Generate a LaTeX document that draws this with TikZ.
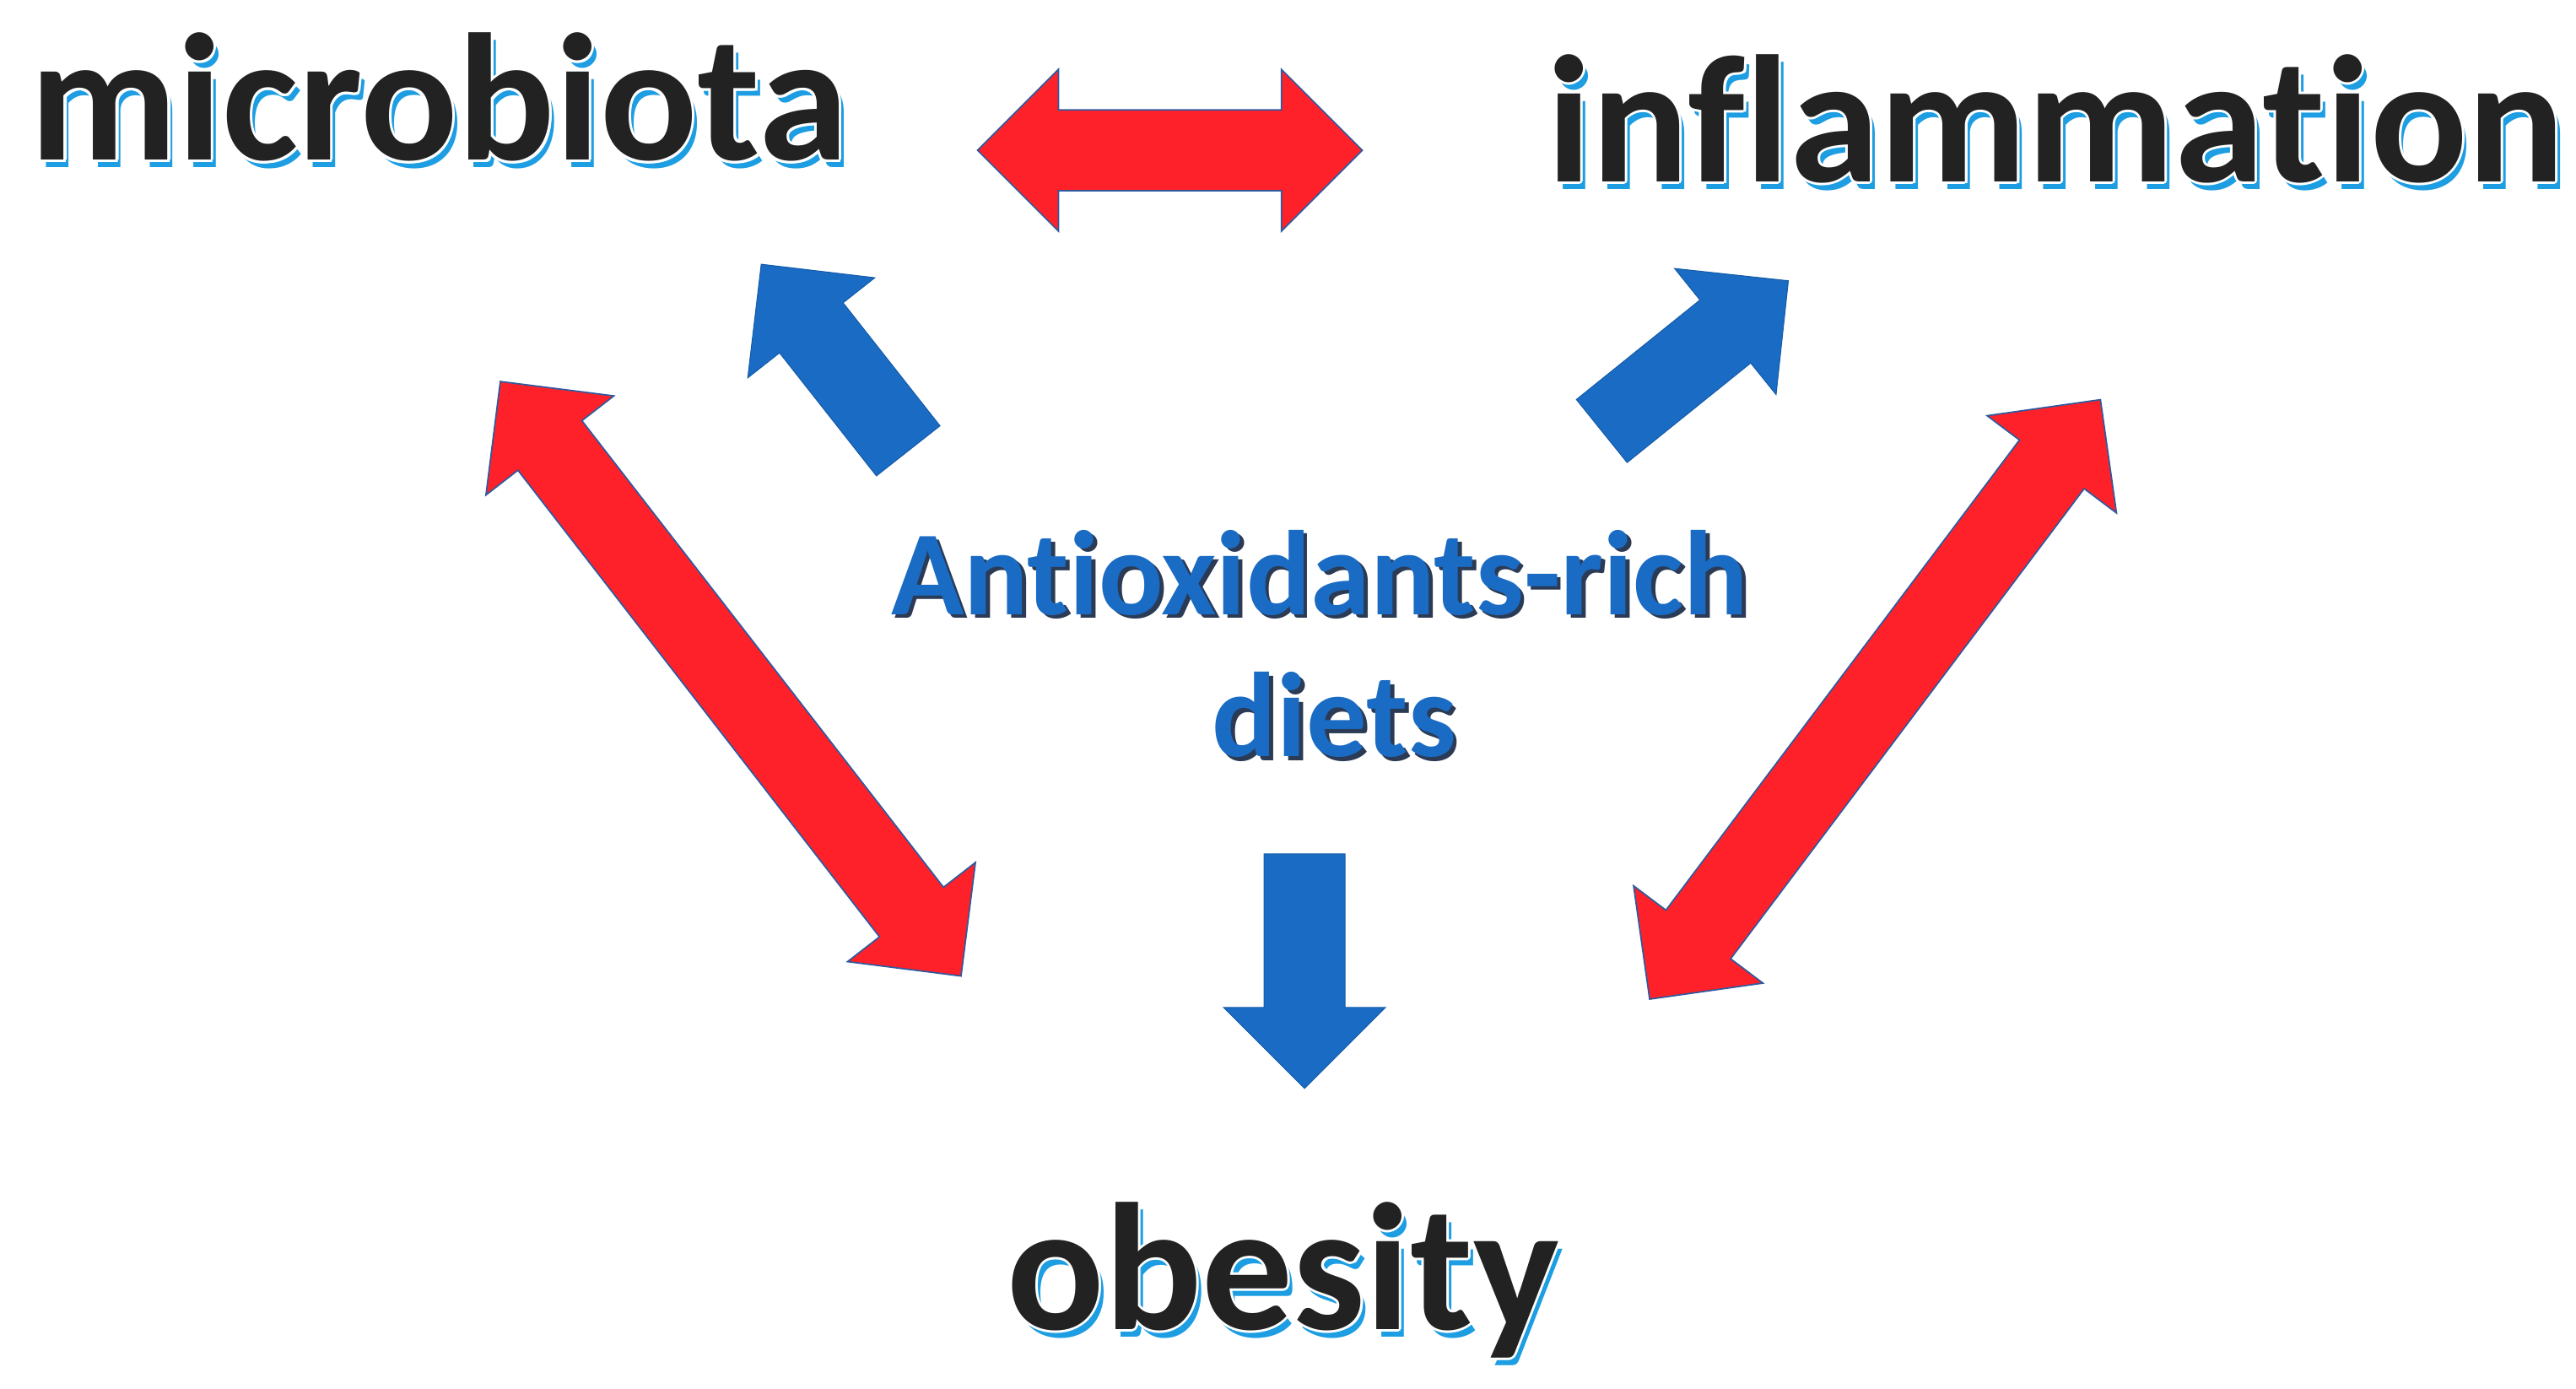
\documentclass[tikz,border=0pt]{standalone}
\usepackage{fontspec}
\setmainfont{Carlito}[Ligatures=CommonOff]
\usetikzlibrary{calc}
\definecolor{arrowred}{HTML}{FF2129}
\definecolor{arrowblue}{HTML}{1A6BC4}
\definecolor{edgeblue}{HTML}{2E5A9E}
\definecolor{textgray}{HTML}{222222}
\definecolor{shadowblue}{HTML}{1D9DE2}
\definecolor{shadownavy}{HTML}{2B3B55}
\tikzset{
	redarrow/.style={fill=arrowred,draw=edgeblue,line width=.5pt},
	bluearrow/.style={fill=arrowblue,draw=arrowblue!85!black,line width=.3pt},
	bigword/.style={inner sep=0pt,anchor=base,font=\bfseries\fontsize{62.5}{70}\selectfont},
	dietword/.style={inner sep=0pt,anchor=base,font=\bfseries\fontsize{41.5}{48}\selectfont},
}
% block arrow from tail #2 to tip #3
\newcommand{\singlearrow}[3][]{%
	\coordinate (hd) at ($(#3)!9.8mm!(#2)$);
	\draw[#1]($(#2)!4.9mm!90:(#3)$)--($(hd)!4.9mm!-90:(#2)$)--($(hd)!9.8mm!-90:(#2)$)--(#3)
		--($(hd)!9.8mm!90:(#2)$)--($(hd)!4.9mm!90:(#2)$)--($(#2)!4.9mm!-90:(#3)$)--cycle;}
% block arrow with heads at #2 and #3
\newcommand{\doublearrow}[3][]{%
	\coordinate (ha) at ($(#2)!9.8mm!(#3)$);
	\coordinate (hb) at ($(#3)!9.8mm!(#2)$);
	\draw[#1](#2)--($(ha)!9.8mm!90:(#3)$)--($(ha)!4.9mm!90:(#3)$)--($(hb)!4.9mm!-90:(#2)$)--($(hb)!9.8mm!-90:(#2)$)
		--(#3)--($(hb)!9.8mm!90:(#2)$)--($(hb)!4.9mm!90:(#2)$)--($(ha)!4.9mm!-90:(#3)$)--($(ha)!9.8mm!-90:(#3)$)--cycle;}
% dark word with white halo and blue shadow
\newcommand{\glowword}[4]{%
	\node[#1,text=shadowblue] at ($(#3)+(3,4.5)$) {#4};
	\foreach \a in {0,45,...,315}
		\node[#1,text=white] at ($(#3)+(\a:1.6)$) {#4};
	\node[#1,text=textgray] (#2) at (#3) {#4};}
\begin{document}
\begin{tikzpicture}[x=.2mm,y=-.2mm]
	\useasboundingbox (0,0) rectangle (1560,841);
	\glowword{bigword}{micro}{266,97}{microbiota}
	\glowword{bigword}{inflam}{1245,110}{inflammation}
	\glowword{bigword}{obes}{777,805}{obesity}
	\node[dietword,text=shadownavy] at (801.5,374.5) {Antioxidants-rich};
	\node[dietword,text=arrowblue] (antiox) at (799,372) {Antioxidants-rich};
	\node[dietword,text=shadownavy] at (810.5,460.5) {diets};
	\node[dietword,text=arrowblue] (diets) at (808,458) {diets};
	% arrow ends
	\coordinate (topL) at (592,91);
	\coordinate (topR) at (825,91);
	\coordinate (leftT) at (303,231);
	\coordinate (leftB) at (582,591);
	\coordinate (rightT) at (1272,242);
	\coordinate (rightB) at (999,605);
	\coordinate (srcL) at (550,273);
	\coordinate (tipL) at (461,160);
	\coordinate (srcR) at (970,261);
	\coordinate (tipR) at (1083,170);
	\coordinate (srcD) at (790,517);
	\coordinate (tipD) at (790,659);
	\doublearrow[redarrow]{topL}{topR}
	\doublearrow[redarrow]{leftT}{leftB}
	\doublearrow[redarrow]{rightT}{rightB}
	\singlearrow[bluearrow]{srcL}{tipL}
	\singlearrow[bluearrow]{srcR}{tipR}
	\singlearrow[bluearrow]{srcD}{tipD}
\end{tikzpicture}
\end{document}
